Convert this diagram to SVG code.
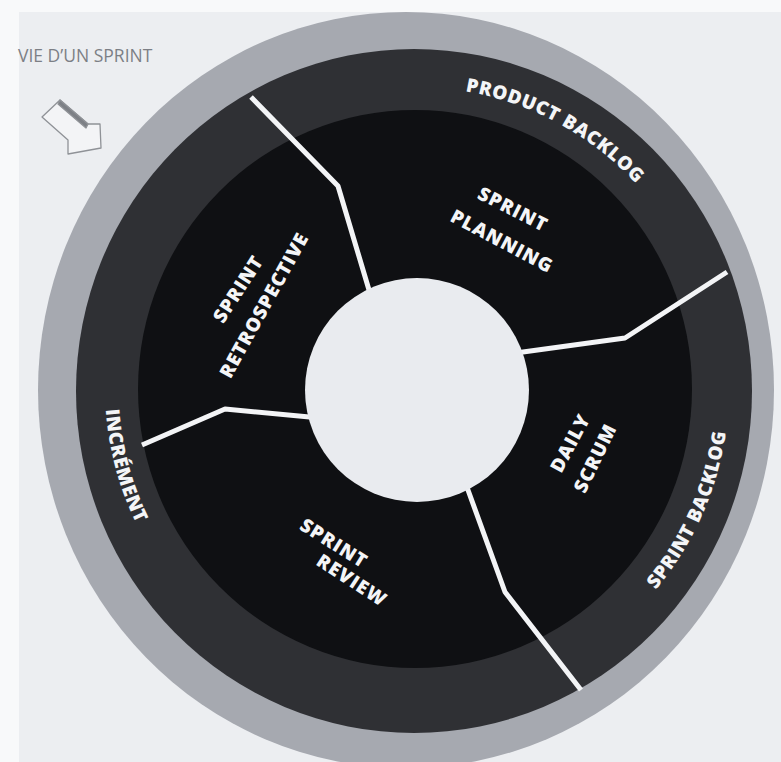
<svg xmlns="http://www.w3.org/2000/svg" width="781" height="762" viewBox="0 0 781 762">
  <style>
    .ring { font-family: "Open Sans", "Liberation Sans", sans-serif; font-weight: 800; font-size: 19px; fill: #f4f5f7; letter-spacing: 0.6px; }
    .lbl { font-family: "Open Sans", "Liberation Sans", sans-serif; font-weight: 800; font-size: 19px; fill: #f4f5f7; letter-spacing: 1px; text-anchor: middle; }
    .title { font-family: "Open Sans", "Liberation Sans", sans-serif; font-size: 17.5px; fill: #7c7f85; }
    .div { fill: none; stroke: #f3f4f6; stroke-width: 5; stroke-linejoin: round; stroke-linecap: butt; }
  </style>
  <defs>
    <clipPath id="panel"><rect x="19" y="12" width="762" height="750"/></clipPath>
    <path id="arcProduct" d="M257.7,131.4 A301,301 0 0 1 715.9,380.1"/>
    <path id="arcSprintBacklog" d="M447.8,700.3 A314,314 0 0 0 669,203.4"/>
    <path id="arcIncrement" d="M195.8,168.8 A310,310 0 0 0 334.8,687.4"/>
  </defs>
  <rect x="0" y="0" width="781" height="762" fill="#f8f9fa"/>
  <rect x="19" y="12" width="762" height="750" fill="#eceef1"/>

  <text class="title" x="18" y="62">VIE D’UN SPRINT</text>

  <g id="arrow-icon" stroke="#8f9297" stroke-width="1.3" stroke-linejoin="round">
    <polygon points="60,100 88,124 100,124 101,148 68,154 68,140 42,117" fill="#f3f4f6"/>
    <polygon points="60,100 88,124 86,128 58,104" fill="#7d8086"/>
  </g>

  <g id="wheel" clip-path="url(#panel)">
    <ellipse cx="406" cy="390" rx="368" ry="378" fill="#a6a9b0"/>
    <ellipse cx="414" cy="391" rx="338" ry="342" fill="#2f3034"/>
    <ellipse cx="415" cy="389" rx="277" ry="279" fill="#0f1013"/>
  </g>

  <g id="connectors">
    <polyline class="div" points="251,97 338,186 372,300"/>
    <polyline class="div" points="727,272 625,338 523,352 505,355"/>
    <polyline class="div" points="142,445 225,409 320,418"/>
    <polyline class="div" points="581,690 505,592 468,490 460,475"/>
  </g>

  <g id="center">
    <circle cx="417" cy="390" r="112" fill="#e9ebef"/>
  </g>

  <g id="product-backlog">
    <text class="ring"><textPath href="#arcProduct" startOffset="50%" text-anchor="middle">PRODUCT BACKLOG</textPath></text>
  </g>
  <g id="sprint-backlog">
    <text class="ring"><textPath href="#arcSprintBacklog" startOffset="50%" text-anchor="middle">SPRINT BACKLOG</textPath></text>
  </g>
  <g id="increment">
    <text class="ring"><textPath href="#arcIncrement" startOffset="50%" text-anchor="middle">INCRÉMENT</textPath></text>
  </g>

  <g id="sprint-planning">
    <text class="lbl" dy="6.8" transform="translate(513,209) rotate(27)">SPRINT</text>
    <text class="lbl" dy="6.8" transform="translate(502,241) rotate(28)">PLANNING</text>
  </g>
  <g id="sprint-retrospective">
    <text class="lbl" dy="6.8" transform="translate(238,289) rotate(-57)">SPRINT</text>
    <text class="lbl" dy="6.8" transform="translate(264,305) rotate(-61)">RETROSPECTIVE</text>
  </g>
  <g id="daily-scrum">
    <text class="lbl" dy="6.8" transform="translate(570,443) rotate(-62)">DAILY</text>
    <text class="lbl" dy="6.8" transform="translate(595,458) rotate(-64)">SCRUM</text>
  </g>
  <g id="sprint-review">
    <text class="lbl" dy="6.8" transform="translate(334,543) rotate(32)">SPRINT</text>
    <text class="lbl" dy="6.8" transform="translate(352,580) rotate(33)">REVIEW</text>
  </g>
</svg>
